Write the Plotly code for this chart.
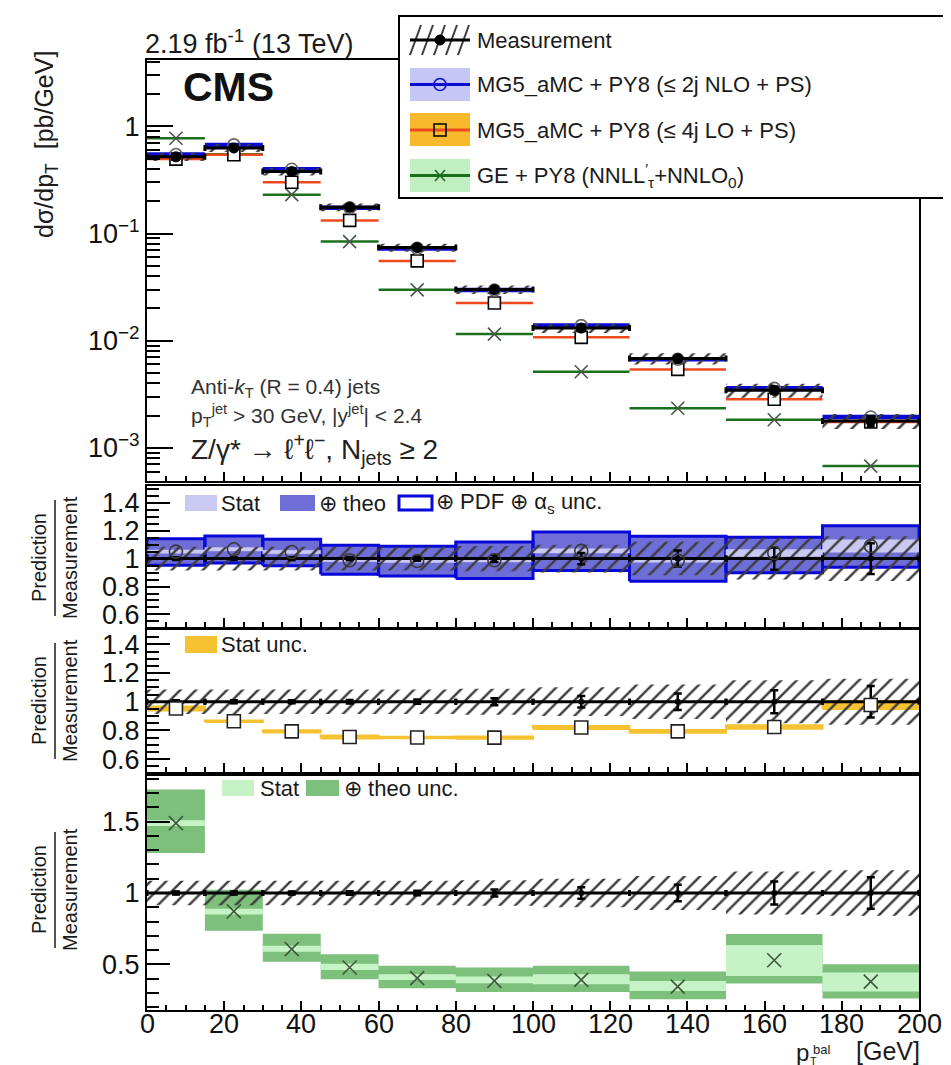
import plotly.graph_objects as go

# ------------------------------------------------------------------ data
bin_edges = [0, 15, 30, 45, 60, 80, 100, 125, 150, 175, 200]

# measurement [pb/GeV] and relative uncertainties
meas = [0.52, 0.63, 0.38, 0.176, 0.074, 0.030, 0.0131, 0.0068, 0.00345, 0.00178]
meas_stat_rel = [0.010, 0.010, 0.010, 0.012, 0.015, 0.025, 0.040, 0.058, 0.080, 0.110]
meas_syst_rel = [0.085, 0.085, 0.085, 0.085, 0.085, 0.090, 0.100, 0.120, 0.150, 0.160]

# MG5_aMC + PY8 (<= 2j NLO + PS)
nlo = [0.546, 0.672, 0.398, 0.1739, 0.0727, 0.02964, 0.01382, 0.0067, 0.003588, 0.00194]
nlo_stat_ratio = [0.012, 0.012, 0.012, 0.010, 0.010, 0.012, 0.015, 0.012, 0.025, 0.045]
nlo_tot_lo = [0.952, 0.969, 0.948, 0.888, 0.876, 0.857, 0.914, 0.838, 0.898, 0.938]
nlo_tot_hi = [1.143, 1.162, 1.138, 1.095, 1.088, 1.119, 1.190, 1.160, 1.152, 1.236]

# MG5_aMC + PY8 (<= 4j LO + PS)
lo = [0.4956, 0.5443, 0.3013, 0.1327, 0.05557, 0.0225, 0.01074, 0.005392, 0.002843, 0.001739]
lo_stat_ratio = [0.014, 0.005, 0.008, 0.010, 0.005, 0.008, 0.010, 0.010, 0.012, 0.027]

# GE + PY8 (NNLL'_tau + NNLO_0)
ge = [0.7748, 0.5487, 0.2307, 0.08413, 0.02982, 0.01152, 0.005122, 0.002339, 0.001825, 0.0006746]
ge_stat_lo = [1.47, 0.85, 0.588, 0.460, 0.390, 0.368, 0.360, 0.314, 0.419, 0.310]
ge_stat_hi = [1.51, 0.89, 0.630, 0.504, 0.430, 0.415, 0.430, 0.384, 0.635, 0.443]
ge_theo_lo = [1.281, 0.735, 0.518, 0.396, 0.333, 0.307, 0.307, 0.255, 0.365, 0.260]
ge_theo_hi = [1.726, 1.023, 0.714, 0.571, 0.490, 0.478, 0.490, 0.450, 0.712, 0.501]

x_tick_vals = [0, 20, 40, 60, 80, 100, 120, 140, 160, 180, 200]
x_tick_text = ["0", "20", "40", "60", "80", "100", "120", "140", "160", "180", "200"]
top_tick_vals = [1e-3, 1e-2, 1e-1, 1]
top_tick_text = ["10<sup>\u22123</sup>", "10<sup>\u22122</sup>", "10<sup>\u22121</sup>", "1"]
r12_tick_vals = [0.6, 0.8, 1.0, 1.2, 1.4]
r12_tick_text = ["0.6", "0.8", "1", "1.2", "1.4"]
r3_tick_vals = [0.5, 1.0, 1.5]
r3_tick_text = ["0.5", "1", "1.5"]

# ------------------------------------------------------------------ derived
n = len(meas)
centers = [(bin_edges[i] + bin_edges[i + 1]) / 2 for i in range(n)]
halfw = [(bin_edges[i + 1] - bin_edges[i]) / 2 for i in range(n)]
meas_stat_abs = [m * s for m, s in zip(meas, meas_stat_rel)]
r_meas = [m / m for m in meas]
r_nlo = [p / m for p, m in zip(nlo, meas)]
r_lo = [p / m for p, m in zip(lo, meas)]
r_ge = [p / m for p, m in zip(ge, meas)]

# ------------------------------------------------------------------ layout helpers
W, H = 951, 1065
FONT = "Liberation Sans, Arial, Helvetica, sans-serif"
X0, X1 = 139, 911
PANELS = {"top": (52, 473), "r1": (478, 619), "r2": (622, 764), "r3": (768, 1002)}


def fx(x):
    return x / W


def fy(y):
    return 1 - y / H


def ydom(key):
    a, b = PANELS[key]
    return [fy(b), fy(a)]


def box_path(lo_vals, hi_vals):
    xs, ys = [], []
    for i in range(len(lo_vals)):
        a, b = bin_edges[i], bin_edges[i + 1]
        xs += [a, b, b, a, a, None]
        ys += [lo_vals[i], lo_vals[i], hi_vals[i], hi_vals[i], lo_vals[i], None]
    return xs, ys


fig = go.Figure()


def add_band(lo_vals, hi_vals, xa, ya, fill, line_color=None, line_width=0):
    xs, ys = box_path(lo_vals, hi_vals)
    fig.add_trace(go.Scatter(
        x=xs, y=ys, xaxis=xa, yaxis=ya, mode="lines", fill="toself",
        fillcolor=fill,
        line=dict(color=line_color if line_color else fill, width=line_width),
        hoverinfo="skip", showlegend=False))


def add_hatch(lo_vals, hi_vals, xa, ya):
    xs, ys = box_path(lo_vals, hi_vals)
    fig.add_trace(go.Scatter(
        x=xs, y=ys, xaxis=xa, yaxis=ya, mode="lines", fill="toself",
        fillcolor="rgba(0,0,0,0)",
        fillpattern=dict(shape="/", fgcolor="#3c3c3c", bgcolor="rgba(0,0,0,0)",
                         size=11, solidity=0.22, fillmode="replace"),
        line=dict(color="rgba(0,0,0,0)", width=0),
        hoverinfo="skip", showlegend=False))


def add_meas(yvals, yerr, xa, ya, msize):
    fig.add_trace(go.Scatter(
        x=centers, y=yvals, xaxis=xa, yaxis=ya, mode="markers",
        marker=dict(symbol="circle" if msize > 6 else "square", size=msize, color="black"),
        error_x=dict(type="data", array=halfw, symmetric=True, color="black", thickness=3, width=3),
        error_y=dict(type="data", array=yerr, symmetric=True, color="black", thickness=2.5, width=4),
        hoverinfo="skip", showlegend=False))


# ------------------------------------------------------------------ top panel
GREEN_LINE = "#1c6f1c"
ORANGE_LINE = "#ee4a1e"
BLUE_LINE = "#0a0ad0"

fig.add_trace(go.Scatter(
    x=centers, y=ge, xaxis="x", yaxis="y", mode="markers",
    marker=dict(symbol="x-thin", size=13, color="#4a5a4a", line=dict(width=1.6, color="#4a5a4a")),
    error_x=dict(type="data", array=halfw, color=GREEN_LINE, thickness=2.5, width=0),
    hoverinfo="skip", showlegend=False))
fig.add_trace(go.Scatter(
    x=centers, y=lo, xaxis="x", yaxis="y", mode="markers",
    marker=dict(symbol="square", size=12, color="white", line=dict(width=1.6, color="black")),
    error_x=dict(type="data", array=halfw, color=ORANGE_LINE, thickness=2.5, width=0),
    hoverinfo="skip", showlegend=False))
fig.add_trace(go.Scatter(
    x=centers, y=nlo, xaxis="x", yaxis="y", mode="markers",
    marker=dict(symbol="circle-open", size=12, color="#666666", line=dict(width=1.6, color="#666666")),
    error_x=dict(type="data", array=halfw, color=BLUE_LINE, thickness=4.5, width=0),
    hoverinfo="skip", showlegend=False))
add_hatch([m * (1 - s) for m, s in zip(meas, meas_syst_rel)],
          [m * (1 + s) for m, s in zip(meas, meas_syst_rel)], "x", "y")
add_meas(meas, meas_stat_abs, "x", "y", 11)

# ------------------------------------------------------------------ ratio 1 (NLO)
add_band(nlo_tot_lo, nlo_tot_hi, "x2", "y2", "rgba(98,98,210,0.92)", line_color="#0808d8", line_width=3)
add_band([r - s for r, s in zip(r_nlo, nlo_stat_ratio)],
         [r + s for r, s in zip(r_nlo, nlo_stat_ratio)], "x2", "y2", "#c9c9f4", line_width=0.5)
add_hatch([1 - s for s in meas_syst_rel], [1 + s for s in meas_syst_rel], "x2", "y2")
add_meas(r_meas, meas_stat_rel, "x2", "y2", 5)
fig.add_trace(go.Scatter(
    x=centers, y=r_nlo, xaxis="x2", yaxis="y2", mode="markers",
    marker=dict(symbol="circle-open", size=13, color="#3a3a3a", line=dict(width=1.6, color="#3a3a3a")),
    hoverinfo="skip", showlegend=False))

# ------------------------------------------------------------------ ratio 2 (LO)
add_band([r - s for r, s in zip(r_lo, lo_stat_ratio)],
         [r + s for r, s in zip(r_lo, lo_stat_ratio)], "x3", "y3", "#f6c232", line_width=2)
add_hatch([1 - s for s in meas_syst_rel], [1 + s for s in meas_syst_rel], "x3", "y3")
add_meas(r_meas, meas_stat_rel, "x3", "y3", 5)
fig.add_trace(go.Scatter(
    x=centers, y=r_lo, xaxis="x3", yaxis="y3", mode="markers",
    marker=dict(symbol="square", size=13, color="white", line=dict(width=1.6, color="#222222")),
    hoverinfo="skip", showlegend=False))

# ------------------------------------------------------------------ ratio 3 (GE)
add_band(ge_theo_lo, ge_theo_hi, "x4", "y4", "#7cc07c")
add_band(ge_stat_lo, ge_stat_hi, "x4", "y4", "#c6f3c6")
add_hatch([1 - s for s in meas_syst_rel], [1 + s for s in meas_syst_rel], "x4", "y4")
add_meas(r_meas, meas_stat_rel, "x4", "y4", 5)
fig.add_trace(go.Scatter(
    x=centers, y=r_ge, xaxis="x4", yaxis="y4", mode="markers",
    marker=dict(symbol="x-thin", size=14, color="#3d5a3d", line=dict(width=1.6, color="#3d5a3d")),
    hoverinfo="skip", showlegend=False))

# ------------------------------------------------------------------ axes
TICKFONT = dict(family=FONT, size=27, color="#111111")
base_axis = dict(showline=True, linecolor="black", linewidth=2, mirror=True,
                 ticks="inside", tickcolor="black", tickwidth=2, showgrid=False,
                 zeroline=False, automargin=False, tickfont=TICKFONT)

xdom = [fx(X0), fx(X1)]
for i, (key, ya) in enumerate([("top", "y"), ("r1", "y2"), ("r2", "y3"), ("r3", "y4")]):
    name = "xaxis" if i == 0 else "xaxis%d" % (i + 1)
    ax = dict(base_axis)
    ax.update(domain=xdom, anchor=ya, range=[0, 200], tickmode="array", tickvals=x_tick_vals,
              ticklen=9, showticklabels=False,
              minor=dict(ticks="inside", ticklen=5, tickwidth=1.5, tickcolor="black",
                         dtick=5, tick0=0, showgrid=False))
    if i > 0:
        ax["matches"] = "x"
    fig.layout[name] = ax

minor_log = [k * 10 ** e for e in range(-4, 1) for k in range(2, 10)]
ay = dict(base_axis)
ay.update(domain=ydom("top"), anchor="x", type="log", range=[-3.31, 0.62],
          tickmode="array", tickvals=top_tick_vals, ticktext=top_tick_text, ticklen=26,
          minor=dict(tickmode="array", tickvals=minor_log, ticks="inside", ticklen=13,
                     tickwidth=1.5, tickcolor="black", showgrid=False))
fig.layout["yaxis"] = ay

for name, key, xa, rng, tv, tt, md in [
        ("yaxis2", "r1", "x2", [0.51, 1.52], r12_tick_vals, r12_tick_text, 0.05),
        ("yaxis3", "r2", "x3", [0.51, 1.50], r12_tick_vals, r12_tick_text, 0.05),
        ("yaxis4", "r3", "x4", [0.18, 1.82], r3_tick_vals, r3_tick_text, 0.1)]:
    a = dict(base_axis)
    a.update(domain=ydom(key), anchor=xa, range=rng, tickmode="array", tickvals=tv,
             ticktext=tt, ticklen=23,
             minor=dict(ticks="inside", ticklen=12, tickwidth=1.5, tickcolor="black",
                        dtick=md, tick0=0, showgrid=False))
    fig.layout[name] = a

# ------------------------------------------------------------------ annotations & shapes
annotations = []
shapes = []


def text(x, y, s, size, xanchor="left", yanchor="middle", angle=0, color="#1a1a1a"):
    annotations.append(dict(x=fx(x), y=fy(y), xref="paper", yref="paper", text=s,
                            showarrow=False, xanchor=xanchor, yanchor=yanchor,
                            textangle=angle, borderpad=0,
                            font=dict(family=FONT, size=size, color=color)))


def rect(x0, y0, x1, y1, fill, line_color=None, line_width=0):
    shapes.append(dict(type="rect", xref="paper", yref="paper", layer="above",
                       x0=fx(x0), x1=fx(x1), y0=fy(y0), y1=fy(y1), fillcolor=fill,
                       line=dict(color=line_color or fill, width=line_width)))


def seg(x0, y0, x1, y1, color, width):
    shapes.append(dict(type="line", xref="paper", yref="paper", layer="above",
                       x0=fx(x0), x1=fx(x1), y0=fy(y0), y1=fy(y1),
                       line=dict(color=color, width=width)))


def circ(xc, yc, r, fill, line_color, width):
    shapes.append(dict(type="circle", xref="paper", yref="paper", layer="above",
                       x0=fx(xc - r), x1=fx(xc + r), y0=fy(yc + r), y1=fy(yc - r),
                       fillcolor=fill, line=dict(color=line_color, width=width)))


# x-axis tick labels of the bottom panel, placed on the x data scale
for v, t in zip(x_tick_vals, x_tick_text):
    annotations.append(dict(x=v, xref="x4", y=fy(1016), yref="paper", text=t,
                            showarrow=False, xanchor="center", yanchor="middle",
                            borderpad=0, font=TICKFONT))

# header texts
text(136, 34, "2.19 fb<sup>-1</sup> (13 TeV)", 27)
text(174, 79, "<b>CMS</b>", 41, color="#111111")
text(182, 380, "Anti-<i>k</i><sub>T</sub> (R = 0.4) jets", 21, color="#333333")
text(182, 408, "p<sub>T</sub><sup>jet</sup> > 30 GeV, |y<sup>jet</sup>| < 2.4", 21, color="#333333")
text(182, 441, "Z/\u03b3* \u2192 \u2113<sup>+</sup>\u2113<sup>\u2212</sup>, N<sub>jets</sub> \u2265 2", 28,
     color="#222222")

# axis titles
text(38, 137, "d\u03c3/dp<sub>T</sub>  [pb/GeV]", 25, xanchor="center", angle=-90)
text(913, 1043, "[GeV]", 25, xanchor="right")
text(802, 1044, "p", 24, xanchor="right")
text(804, 1041, "bal", 13)
text(801, 1053, "T", 11)
for yc in (550, 693, 882):
    text(31, yc, "Prediction", 20, xanchor="center", angle=-90)
    text(62, yc, "Measurement", 20, xanchor="center", angle=-90)
    seg(47, yc - 58, 47, yc + 58, "#1a1a1a", 1.5)

# main legend box
rect(391, 8, 941, 190, "white", "black", 2)
# measurement entry
for k in range(5):
    seg(402 + 12 * k, 47, 413 + 12 * k, 17, "#3c3c3c", 2)
seg(402, 32, 462, 32, "black", 3)
circ(432, 32, 5, "black", "black", 1)
text(468, 32, "Measurement", 22)
# NLO entry
rect(402, 60, 462, 93, "#c5c5f6")
seg(402, 76.5, 462, 76.5, BLUE_LINE, 3)
circ(432, 76.5, 6, "rgba(0,0,0,0)", BLUE_LINE, 1.6)
text(468, 76.5, "MG5_aMC + PY8 (\u2264 2j NLO + PS)", 22)
# LO entry
rect(402, 105, 462, 138, "#f8b92c")
seg(402, 122, 462, 122, ORANGE_LINE, 3)
rect(426, 116, 438, 128, "rgba(0,0,0,0)", "black", 1.6)
text(468, 122, "MG5_aMC + PY8 (\u2264 4j LO + PS)", 22)
# GE entry
rect(402, 151, 462, 184, "#c0f0c2")
seg(402, 167.5, 462, 167.5, GREEN_LINE, 3)
seg(427, 162, 437, 173, GREEN_LINE, 1.6)
seg(427, 173, 437, 162, GREEN_LINE, 1.6)
text(468, 167.5, "GE + PY8 (NNLL<sup>\u2032</sup><sub>\u03c4</sub>+NNLO<sub>0</sub>)", 22)

# ratio 1 legend
rect(177, 487, 209, 503, "#c9c9f4")
text(212, 495, "Stat", 22)
rect(272, 487, 307, 503, "rgba(98,98,210,0.92)")
text(310, 495, "\u2295 theo", 22)
rect(391, 488, 424, 502, "white", "#0808d8", 3)
text(427, 495, "\u2295 PDF \u2295 \u03b1<sub>s</sub> unc.", 22)

# ratio 2 legend
rect(177, 628, 209, 645, "#f6c232")
text(212, 636, "Stat unc.", 22)

# ratio 3 legend
rect(214, 772, 246, 788, "#c6f3c6")
text(251, 780, "Stat", 22)
rect(298, 772, 331, 788, "#7cc07c")
text(335, 780, "\u2295 theo unc.", 22)

fig.update_layout(
    width=W, height=H,
    margin=dict(l=0, r=0, t=0, b=0, pad=0),
    paper_bgcolor="white", plot_bgcolor="white",
    showlegend=False,
    annotations=annotations, shapes=shapes,
    font=dict(family=FONT, color="#111111"),
)

fig.write_html("out.html")
